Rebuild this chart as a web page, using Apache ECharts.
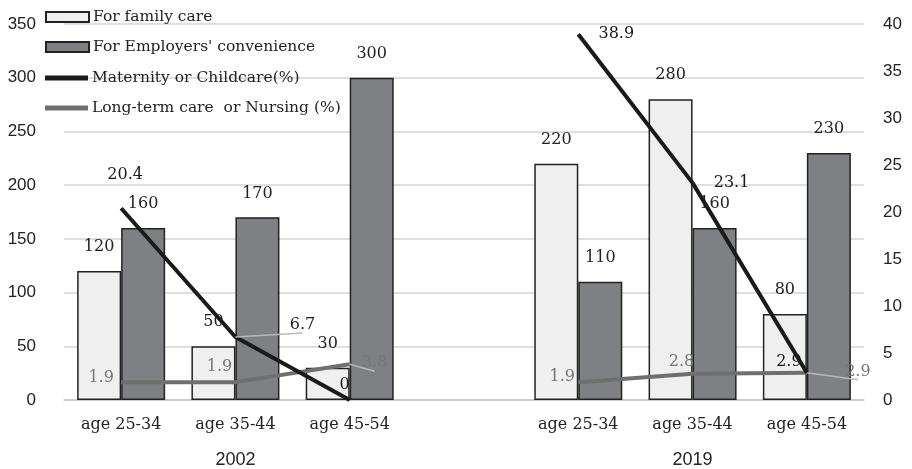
<!DOCTYPE html>
<html>
<head>
<meta charset="utf-8">
<script src="https://cdn.jsdelivr.net/npm/echarts@6/dist/echarts.min.js"></script>
<style>
html,body{margin:0;padding:0;background:#fff;}
#c{width:912px;height:469px;}
</style>
</head>
<body>
<div id="c"></div>
<script>
// ---- data ----
const categories = ['age 25-34','age 35-44','age 45-54','','age 25-34','age 35-44','age 45-54'];
const groupLabels = ['','2002','','','','2019',''];
const familyCare = [120, 50, 30, null, 220, 280, 80];
const employersConvenience = [160, 170, 300, null, 110, 160, 230];
const maternityPct = [20.4, 6.7, 0, null, 38.9, 23.1, 2.9];
const nursingPct = [1.9, 1.9, 3.8, null, 1.9, 2.8, 2.9];
const leftTicks = {min: 0, max: 350, interval: 50};
const rightTicks = {min: 0, max: 40, interval: 5};

// ---- label placement (style only) ----
const maternityLabelOffsets = [[4,-33],[67,-12],[-5,-15],null,[38,0],[39,0],[-18,-11]];
const maternityLeader = [false,true,false,false,false,false,false];
const nursingLabelOffsets = [[-20,-4],[-16,-15],[25,-1],null,[-16,-5],[-11,-12],[51,-1]];
const nursingLeader = [false,false,true,false,false,false,true];

const serif = 'DejaVu Serif';
const sans = 'Liberation Sans';

function lineData(vals, offs, leader, color) {
  return vals.map((v, i) => {
    if (v === null) return null;
    return {
      value: v,
      label: {
        show: true, position: 'inside', offset: offs[i],
        color: color, fontFamily: serif, fontSize: 16,
        formatter: (p) => String(p.value)
      },
      labelLine: {show: leader[i], lineStyle: {color: '#b8b8b8', width: 1.5}}
    };
  });
}

const chart = echarts.init(document.getElementById('c'));
chart.setOption({
  animation: false,
  backgroundColor: '#fff',
  grid: {left: 64, right: 48, top: 24, bottom: 69},
  legend: [
    {
      orient: 'vertical', left: 45, top: 8, padding: 0, itemWidth: 43, itemHeight: 10, itemGap: 12,
      textStyle: {fontFamily: serif, fontSize: 15.5, color: '#222', lineHeight: 18, padding: [0,0,0,-1]},
      data: [{name: 'For family care', icon: 'rect'}, {name: "For Employers' convenience", icon: 'rect'}]
    },
    {
      orient: 'vertical', left: 45, top: 69, padding: 0, itemWidth: 43, itemHeight: 5, itemGap: 12,
      textStyle: {fontFamily: serif, fontSize: 15.5, color: '#222', lineHeight: 18, padding: [0,0,0,-1]},
      data: [{name: 'Maternity or Childcare(%)', icon: 'rect'}, {name: 'Long-term care  or Nursing (%)', icon: 'rect'}]
    }
  ],
  xAxis: [
    {
      type: 'category', data: categories,
      axisLine: {lineStyle: {color: '#c8c8c8', width: 1.5}},
      axisTick: {show: false},
      axisLabel: {interval: 0, margin: 17, fontFamily: serif, fontSize: 16, color: '#222'}
    },
    {
      type: 'category', data: groupLabels, position: 'bottom', offset: 34,
      axisLine: {show: false}, axisTick: {show: false},
      axisLabel: {interval: 0, margin: 17, fontFamily: sans, fontSize: 18, color: '#222'}
    }
  ],
  yAxis: [
    {
      type: 'value', min: leftTicks.min, max: leftTicks.max, interval: leftTicks.interval,
      axisLine: {show: false}, axisTick: {show: false},
      axisLabel: {margin: 28, fontFamily: sans, fontSize: 17, color: '#222'},
      splitLine: {lineStyle: {color: '#d4d4d4', width: 1.5}}
    },
    {
      type: 'value', min: rightTicks.min, max: rightTicks.max, interval: rightTicks.interval,
      axisLine: {show: false}, axisTick: {show: false},
      axisLabel: {margin: 19, fontFamily: sans, fontSize: 17, color: '#222'},
      splitLine: {show: false}
    }
  ],
  series: [
    {
      name: 'For family care', type: 'bar', data: familyCare, barWidth: 44, barGap: '0%',
      itemStyle: {color: '#efefef', borderColor: '#222', borderWidth: 1.5},
      label: {show: true, position: 'top', distance: 16, fontFamily: serif, fontSize: 16, color: '#222'}
    },
    {
      name: "For Employers' convenience", type: 'bar', data: employersConvenience, barWidth: 44, barGap: '0%',
      itemStyle: {color: '#7f8083', borderColor: '#222', borderWidth: 1.5},
      label: {show: true, position: 'top', distance: 16, fontFamily: serif, fontSize: 16, color: '#222'}
    },
    {
      name: 'Long-term care  or Nursing (%)', type: 'line', yAxisIndex: 1, z: 3,
      data: lineData(nursingPct, nursingLabelOffsets, nursingLeader, '#777'),
      symbol: 'circle', symbolSize: 0.01, showSymbol: true,
      itemStyle: {color: '#6f6f6f'},
      lineStyle: {color: '#6f6f6f', width: 4}
    },
    {
      name: 'Maternity or Childcare(%)', type: 'line', yAxisIndex: 1, z: 4,
      data: lineData(maternityPct, maternityLabelOffsets, maternityLeader, '#1a1a1a'),
      symbol: 'circle', symbolSize: 0.01, showSymbol: true,
      itemStyle: {color: '#1a1a1a'},
      lineStyle: {color: '#1a1a1a', width: 4}
    }
  ]
});
</script>
</body>
</html>
